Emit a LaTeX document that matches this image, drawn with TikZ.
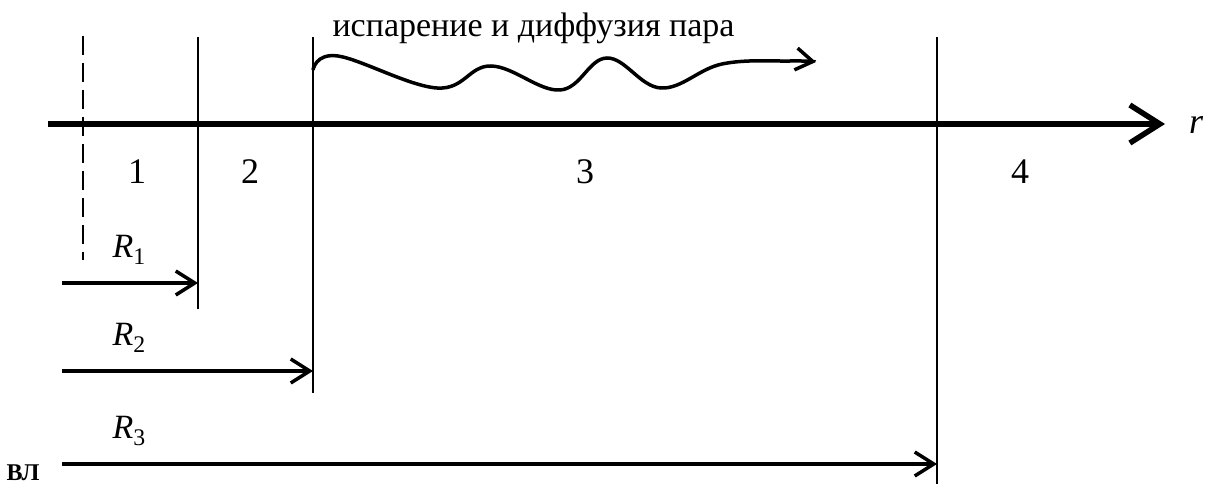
\documentclass[tikz,border=0pt]{standalone}
\usepackage{fontspec}
\setmainfont{Liberation Serif}
\usetikzlibrary{arrows.meta}

\begin{document}
\begin{tikzpicture}[x=1pt,y=-1pt,
  axisline/.style={line width=5.5pt,-{Straight Barb[length=30pt,width=38pt]}},
  boundline/.style={line width=1.4pt},
  radiusarrow/.style={line width=3.5pt,-{Straight Barb[length=19pt,width=24pt]}},
  wavearrow/.style={line width=3.5pt,-{Straight Barb[length=17pt,width=22pt]}},
  zonelabel/.style={font=\fontsize{36}{40}\selectfont},
  radiuslabel/.style={anchor=west,font=\fontsize{34}{38}\selectfont}]
\useasboundingbox (0,0) rectangle (1210,484);
% axis r
\coordinate (axstart) at (48,124);
\coordinate (axend) at (1165,124);
\draw[axisline] (axstart) -- (axend);
\node[font=\fontsize{36}{40}\selectfont\itshape] (rlabel) at (1196,125) {r};
% boundaries
\coordinate (b0top) at (83,36);
\coordinate (b0bot) at (83,260);
\draw[boundline,dash pattern=on 19pt off 8pt] (b0top) -- (b0bot);
\foreach \n/\x/\bot in {1/198/309,2/313/393,3/937/484}
{
  \coordinate (b\n top) at (\x,37);
  \coordinate (b\n bot) at (\x,\bot);
  \draw[boundline] (b\n top) -- (b\n bot);
}
% zones
\foreach \n/\x in {1/137,2/250,3/585,4/1020}
  \node[zonelabel] (zone\n) at (\x,172) {\n};
% radii
\foreach \i/\y/\xe in {1/283/198,2/371/313,3/464/937}
{
  \coordinate (r\i start) at (62,\y);
  \coordinate (r\i end) at (\xe,\y);
  \draw[radiusarrow] (r\i start) -- (r\i end);
  \node[radiuslabel] (rad\i) at (109,\y-33) {\textit{R}\textsubscript{\i}};
}
% evaporation and vapour diffusion
\node[anchor=base west,font=\fontsize{34}{38}\selectfont] (vaptext) at (329,37)
  {испарение и диффузия пара};
\coordinate (wavestart) at (313,70);
\coordinate (waveend) at (816,62);
\draw[wavearrow] plot[smooth,tension=0.65] coordinates {(wavestart) (338,56) (437,88) (491,66)
  (560,90) (607,58) (661,88) (722,64) (790,61) (waveend)};
% caption remnant
\node[anchor=base west,font=\bfseries\fontsize{24}{28}\selectfont] (vl) at (3,480) {ВЛ};
\end{tikzpicture}
\end{document}
